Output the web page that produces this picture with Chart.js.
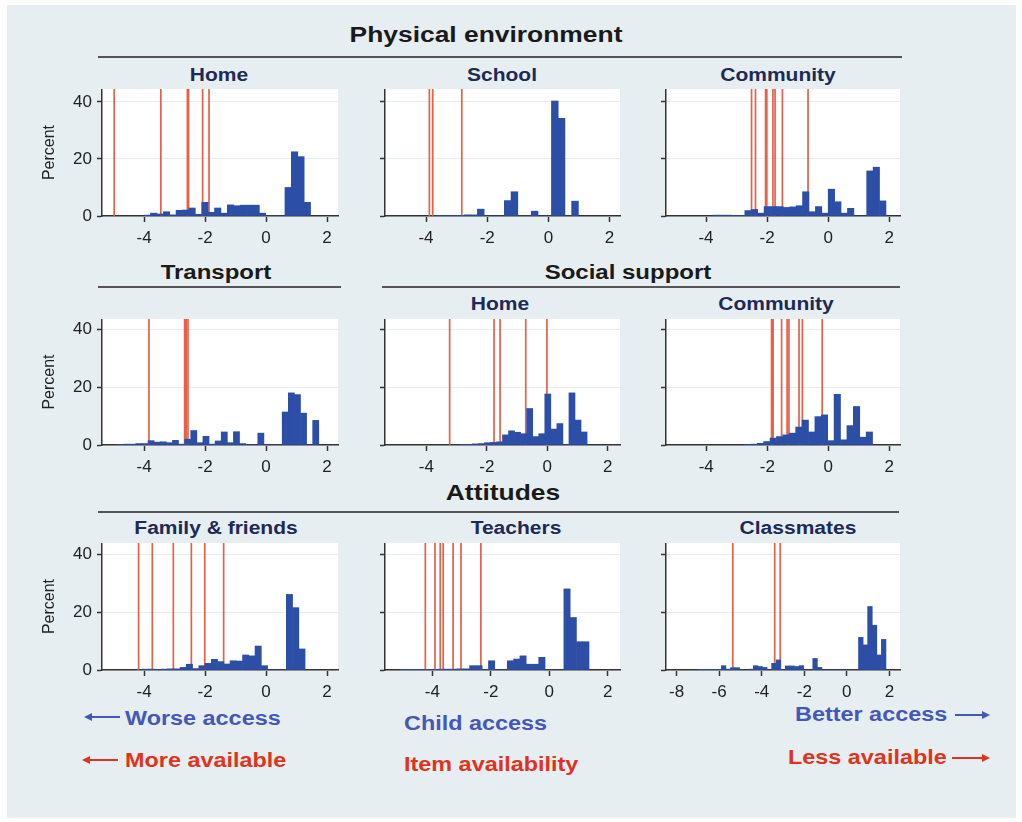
<!DOCTYPE html>
<html lang="en">
<head>
<meta charset="UTF-8">
<title>Child access and item availability</title>
<style>
    * { box-sizing: border-box; margin: 0; padding: 0; }
    body {
        width: 1022px;
        height: 822px;
        position: relative;
        overflow: hidden;
        background: #fff;
        font-family: "Liberation Sans", Arial, sans-serif;
    }
    #figure {
        position: absolute;
        left: 7px;
        top: 5px;
        width: 1009px;
        height: 813px;
        background: #e7eef1;
    }
    canvas { position: absolute; }
    .label {
        position: absolute;
        white-space: nowrap;
        font-weight: bold;
        transform: translate(-50%, -50%) scaleX(1.2);
    }
    .group { font-size: 22px; color: #1a1a1a; }
    .sub { font-size: 17.5px; color: #1c2a55; }
    .rule { position: absolute; height: 2px; background: #555; }
    .note {
        position: absolute;
        white-space: nowrap;
        font-weight: bold;
        font-size: 19.5px;
        transform: translateY(-50%) scaleX(1.2);
        transform-origin: left center;
    }
    .blue { color: #4557b8; }
    .red { color: #df3320; }
    svg { position: absolute; overflow: visible; }
</style>
<script src="https://cdn.jsdelivr.net/npm/chart.js"></script>
</head>
<body>
<div id="figure"></div>

<div class="label group" style="left:486px; top:35px;">Physical environment</div>
<div class="rule" style="left:98px; top:56px; width:804px;"></div>
<div class="label sub" style="left:219px; top:75px;">Home</div>
<div class="label sub" style="left:502px; top:75px;">School</div>
<div class="label sub" style="left:778px; top:75px;">Community</div>

<div class="label group" style="left:216px; top:272px; font-size:20px;">Transport</div>
<div class="rule" style="left:98px; top:286px; width:243px;"></div>
<div class="label group" style="left:628px; top:272px; font-size:20px;">Social support</div>
<div class="rule" style="left:382px; top:286px; width:518px;"></div>
<div class="label sub" style="left:500px; top:304px;">Home</div>
<div class="label sub" style="left:776px; top:304px;">Community</div>

<div class="label group" style="left:503px; top:493px;">Attitudes</div>
<div class="rule" style="left:98px; top:511px; width:801px;"></div>
<div class="label sub" style="left:216px; top:528px;">Family &amp; friends</div>
<div class="label sub" style="left:516px; top:528px;">Teachers</div>
<div class="label sub" style="left:798px; top:528px;">Classmates</div>

<svg style="left:0; top:0;" width="1022" height="822">
    <g stroke="#4557b8" fill="#4557b8" stroke-width="2">
        <line x1="90" y1="717" x2="120" y2="717"/>
        <polygon points="84,717 92,713 92,721" stroke="none"/>
        <line x1="955" y1="715" x2="984" y2="715"/>
        <polygon points="990,715 982,711 982,719" stroke="none"/>
    </g>
    <g stroke="#df3320" fill="#df3320" stroke-width="2">
        <line x1="88" y1="760" x2="118" y2="760"/>
        <polygon points="82,760 90,756 90,764" stroke="none"/>
        <line x1="952" y1="758" x2="984" y2="758"/>
        <polygon points="990,758 982,754 982,762" stroke="none"/>
    </g>
</svg>
<div class="note blue" style="left:125px; top:718px;">Worse access</div>
<div class="note blue" style="left:404px; top:723px;">Child access</div>
<div class="note blue" style="left:795px; top:714px;">Better access</div>
<div class="note red" style="left:125px; top:760px;">More available</div>
<div class="note red" style="left:404px; top:764px;">Item availability</div>
<div class="note red" style="left:788px; top:757px;">Less available</div>

<script>
    // tick labels
    const xTicksStd = [-4, -2, 0, 2];
    const xTicksWide = [-8, -6, -4, -2, 0, 2];
    const yTicks = [0, 20, 40];

    // histograms: first bin edge, bin width, percent per bin
    // red lines: item availability positions
    const physHomeStart = -4.0, physHomeWidth = 0.21;
    const physHomePct = [0.3, 1.0, 0.7, 1.5, 0.4, 2.0, 2.1, 2.8, 0.6, 4.8, 1.3, 2.8, 1.0, 3.9, 3.6, 3.8, 3.8, 3.8, 1.0, 0, 0, 0, 10, 22.5, 20.8, 4.8];
    const physHomeItems = [-4.98, -3.45, -2.58, -2.54, -2.08, -1.87];

    const schoolStart = -3.64, schoolWidth = 0.22;
    const schoolPct = [0.2, 0.2, 0.2, 0.2, 0.4, 0.4, 2.4, 0, 0, 0, 5.4, 8.5, 0, 0, 1.7, 0, 0, 40.3, 34.2, 0, 5.2];
    const schoolItems = [-3.89, -3.78, -2.83];

    const physCommStart = -3.78, physCommWidth = 0.21;
    const physCommPct = [0.3, 0.3, 0.3, 0.2, 0.2, 1.9, 2.3, 1.0, 3.3, 3.3, 3.3, 3.0, 3.2, 3.6, 8.5, 1.5, 3.3, 1.0, 9.4, 5.0, 1.0, 2.7, 0, 0, 15.8, 17.1, 5.3];
    const physCommItems = [-2.51, -2.38, -2.05, -2.01, -1.81, -1.74, -1.50, -0.66];

    const transportStart = -4.87, transportWidth = 0.2;
    const transportPct = [0.2, 0.3, 0.3, 0.5, 0.5, 1.5, 1.0, 1.1, 0.8, 1.6, 0.3, 2.0, 5.0, 0.8, 3.0, 0.3, 1.4, 4.5, 0.8, 4.6, 0.5, 0, 0, 4.1, 0, 0, 0, 11.4, 18.0, 17.4, 11.0, 0, 8.5];
    const transportItems = [-3.84, -2.67, -2.62, -2.56];

    const socHomeStart = -2.88, socHomeWidth = 0.2;
    const socHomePct = [0.1, 0.2, 0.4, 0.5, 0.8, 0.9, 1.1, 3.5, 4.9, 4.4, 3.9, 12.6, 2.9, 3.9, 17.6, 5.5, 7.4, 0, 18.0, 8.6, 4.5];
    const socHomeItems = [-3.23, -1.76, -1.56, -0.71, -0.01];

    const socCommStart = -2.75, socCommWidth = 0.21;
    const socCommPct = [0.2, 0.3, 0.6, 1.2, 2.4, 2.9, 3.5, 4.1, 6.2, 8.6, 4.5, 9.8, 10.4, 1.5, 17.5, 1.8, 6.7, 13.3, 2.7, 4.5];
    const socCommItems = [-1.86, -1.81, -1.53, -1.35, -1.29, -0.96, -0.85, -0.20];

    const famStart = -4.05, famWidth = 0.205;
    const famPct = [0.3, 0.3, 0.2, 0.3, 0.4, 0.4, 0.9, 2.0, 0.5, 1.5, 2.3, 3.7, 2.9, 2.1, 3.2, 3.1, 5.2, 4.9, 8.3, 1.5, 0, 0, 0, 26.2, 21.6, 7.3];
    const famItems = [-4.18, -3.73, -3.04, -2.45, -2.01, -1.39];

    const teachStart = -5.09, teachWidth = 0.215;
    const teachPct = [0.1, 0.1, 0.2, 0.2, 0.2, 0.2, 0.3, 0.3, 0.3, 0.4, 0.4, 1.5, 1.5, 0.2, 3.2, 0, 0, 3.2, 3.8, 4.9, 2.0, 2.0, 4.4, 0, 0, 0, 28.1, 18.2, 9.8, 9.8];
    const teachItems = [-4.24, -3.91, -3.73, -3.63, -3.29, -3.02, -2.34];

    const classStart = -6.975, classWidth = 0.215;
    const classPct = [0.1, 0.1, 0.2, 0.2, 0.2, 1.5, 0.3, 0.8, 0.8, 0, 0, 0.3, 1.5, 1.2, 0.9, 0, 2.3, 3.5, 0, 1.4, 1.4, 1.2, 1.5, 0, 0, 4.0, 0.9, 0, 0, 0, 0, 0, 0, 0, 0, 11.3, 8.7, 22.0, 15.5, 5.2, 10.6];
    const classItems = [-5.36, -3.39, -3.13];

    // plot regions (px)
    const colLeft = [102, 385, 666];
    const colWidth = [236, 235, 234];
    const rowTop = [89, 319, 543];
    const rowHeight = [127, 126, 127];
    const rowYMax = [44.5, 43.5, 44];

    const barColor = '#2c4ea6';
    const itemColor = 'rgba(228, 88, 62, 0.95)';
    const axisColor = '#333';

    Chart.defaults.font.family = '"Liberation Sans", Arial, sans-serif';
    Chart.defaults.color = '#222';

    const panels = [
        { row: 0, col: 0, start: physHomeStart, width: physHomeWidth, pct: physHomePct, items: physHomeItems, min: -5.38, max: 2.36, ticks: xTicksStd },
        { row: 0, col: 1, start: schoolStart, width: schoolWidth, pct: schoolPct, items: schoolItems, min: -5.34, max: 2.34, ticks: xTicksStd },
        { row: 0, col: 2, start: physCommStart, width: physCommWidth, pct: physCommPct, items: physCommItems, min: -5.31, max: 2.35, ticks: xTicksStd },
        { row: 1, col: 0, start: transportStart, width: transportWidth, pct: transportPct, items: transportItems, min: -5.38, max: 2.36, ticks: xTicksStd },
        { row: 1, col: 1, start: socHomeStart, width: socHomeWidth, pct: socHomePct, items: socHomeItems, min: -5.37, max: 2.41, ticks: xTicksStd },
        { row: 1, col: 2, start: socCommStart, width: socCommWidth, pct: socCommPct, items: socCommItems, min: -5.32, max: 2.35, ticks: xTicksStd },
        { row: 2, col: 0, start: famStart, width: famWidth, pct: famPct, items: famItems, min: -5.38, max: 2.36, ticks: xTicksStd },
        { row: 2, col: 1, start: teachStart, width: teachWidth, pct: teachPct, items: teachItems, min: -5.62, max: 2.42, ticks: xTicksStd },
        { row: 2, col: 2, start: classStart, width: classWidth, pct: classPct, items: classItems, min: -8.5, max: 2.5, ticks: xTicksWide }
    ];

    // white plot region behind the bars
    const plotBg = {
        id: 'plotBg',
        beforeDraw(chart) {
            const { ctx, chartArea: a } = chart;
            ctx.save();
            ctx.fillStyle = '#fff';
            ctx.fillRect(a.left, a.top, a.width, a.height);
            ctx.restore();
        }
    };

    function makePanel(p) {
        const yW = p.col === 0 ? 62 : 12;
        const xH = 34;
        const padRight = 8;
        const yMax = rowYMax[p.row];

        const canvas = document.createElement('canvas');
        canvas.width = yW + colWidth[p.col] + padRight;
        canvas.height = rowHeight[p.row] + xH;
        canvas.style.left = (colLeft[p.col] - yW) + 'px';
        canvas.style.top = rowTop[p.row] + 'px';
        document.body.appendChild(canvas);

        const bars = p.pct.map((v, i) => ({ x: p.start + (i + 0.5) * p.width, y: v }));
        const lines = [];
        p.items.forEach(v => {
            lines.push({ x: v, y: 0 }, { x: v, y: yMax }, { x: v, y: null });
        });

        new Chart(canvas, {
            type: 'bar',
            data: {
                datasets: [
                    {
                        type: 'bar',
                        data: bars,
                        backgroundColor: barColor,
                        borderWidth: 0,
                        categoryPercentage: 1,
                        barPercentage: 1,
                        order: 0
                    },
                    {
                        type: 'line',
                        data: lines,
                        borderColor: itemColor,
                        borderWidth: 1.7,
                        pointRadius: 0,
                        spanGaps: false,
                        order: 1
                    }
                ]
            },
            options: {
                responsive: false,
                animation: false,
                devicePixelRatio: 1,
                layout: { padding: { right: padRight } },
                plugins: { legend: { display: false }, tooltip: { enabled: false } },
                scales: {
                    x: {
                        type: 'linear',
                        offset: false,
                        min: p.min,
                        max: p.max,
                        bounds: 'data',
                        afterBuildTicks: s => { s.ticks = p.ticks.map(v => ({ value: v })); },
                        afterFit: s => { s.height = xH; s.paddingLeft = 0; s.paddingRight = 0; },
                        grid: { offset: false, drawOnChartArea: false, tickLength: 6, tickColor: axisColor, tickWidth: 1.5 },
                        border: { color: axisColor, width: 1.5 },
                        ticks: { font: { size: 17 }, padding: 6, maxRotation: 0, color: '#222' }
                    },
                    y: {
                        min: 0,
                        max: yMax,
                        afterBuildTicks: s => { s.ticks = yTicks.map(v => ({ value: v })); },
                        afterFit: s => { s.width = yW; s.paddingTop = 0; s.paddingBottom = 0; },
                        grid: { color: '#e6edf2', tickLength: 5, tickColor: axisColor, tickWidth: 1.5 },
                        border: { color: axisColor, width: 1.5 },
                        ticks: {
                            font: { size: 17 },
                            padding: 5,
                            color: '#222',
                            callback: v => p.col === 0 ? String(v) : ''
                        },
                        title: {
                            display: p.col === 0,
                            text: 'Percent',
                            font: { size: 16 },
                            color: '#222',
                            padding: 0
                        }
                    }
                }
            },
            plugins: [plotBg]
        });
    }

    panels.forEach(makePanel);
</script>
</body>
</html>
